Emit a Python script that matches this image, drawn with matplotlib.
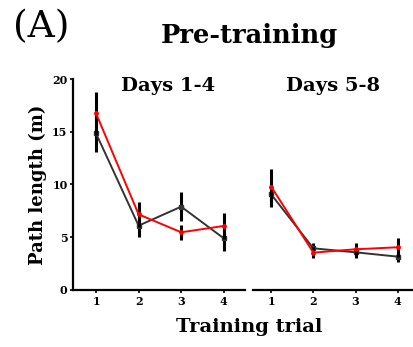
import matplotlib
matplotlib.use("Agg")
import matplotlib.pyplot as plt

trials = [1, 2, 3, 4]
tick_labels = ["1", "2", "3", "4"]

# Days 1-4
black_d14 = [14.85, 6.1, 7.9, 4.9]
black_d14_err = [1.75, 1.1, 1.4, 1.17]
red_d14 = [16.75, 7.17, 5.47, 6.07]
red_d14_err = [2.05, 1.2, 0.7, 1.26]

# Days 5-8
black_d58 = [9.07, 3.95, 3.57, 3.16]
black_d58_err = [1.17, 0.5, 0.55, 0.5]
red_d58 = [9.8, 3.54, 3.86, 4.05]
red_d58_err = [1.64, 0.5, 0.6, 0.9]

plt.rcParams['font.family'] = ['DejaVu Serif']

fig = plt.figure(figsize=(4.13, 3.47), dpi=100)
ax1 = fig.add_axes([0.1768, 0.1643, 0.4165, 0.608])
ax2 = fig.add_axes([0.6126, 0.1643, 0.3874, 0.608])

def draw(ax, b, be, r, re):
    ax.errorbar(trials, b, yerr=be, color='#333333', lw=1.4, ecolor='black',
                elinewidth=2.2, capsize=0, marker='s', ms=3.5, zorder=2)
    ax.errorbar(trials, r, yerr=re, color='red', lw=1.4, ecolor='black',
                elinewidth=2.2, capsize=0, marker='o', ms=2.5, zorder=3)
    ax.set_ylim(0, 20)
    ax.set_xticks(trials)
    ax.set_xticklabels(tick_labels, fontsize=8, fontweight='bold')
    for s in ['top', 'right']:
        ax.spines[s].set_visible(False)
    ax.spines['bottom'].set_linewidth(1.6)
    ax.spines['left'].set_linewidth(1.6)
    ax.tick_params(width=1.2, length=2, pad=2)

draw(ax1, black_d14, black_d14_err, red_d14, red_d14_err)
draw(ax2, black_d58, black_d58_err, red_d58, red_d58_err)

ax1.set_xlim(0.46, 4.5)
ax1.set_yticks([0, 5, 10, 15, 20])
ax1.set_yticklabels(["0", "5", "10", "15", "20"], fontsize=8, fontweight='bold')
ax1.set_ylabel("Path length (m)", fontsize=13, fontweight='bold', labelpad=4)

ax2.set_xlim(0.57, 4.36)
ax2.spines['left'].set_visible(False)
ax2.set_yticks([])

ax1.text(0.552, 1.01, "Days 1-4", transform=ax1.transAxes, ha='center', va='top',
         fontsize=14, fontweight='bold')
ax2.text(0.5, 1.01, "Days 5-8", transform=ax2.transAxes, ha='center', va='top',
         fontsize=14, fontweight='bold')

fig.text(0.032, 0.975, "(A)", fontsize=27, ha='left', va='top')
fig.text(0.605, 0.897, "Pre-training", fontsize=18.5, fontweight='bold', ha='center', va='center')
fig.text(0.603, 0.058, "Training trial", fontsize=14, fontweight='bold', ha='center', va='center')

fig.savefig("out.png", dpi=100)
